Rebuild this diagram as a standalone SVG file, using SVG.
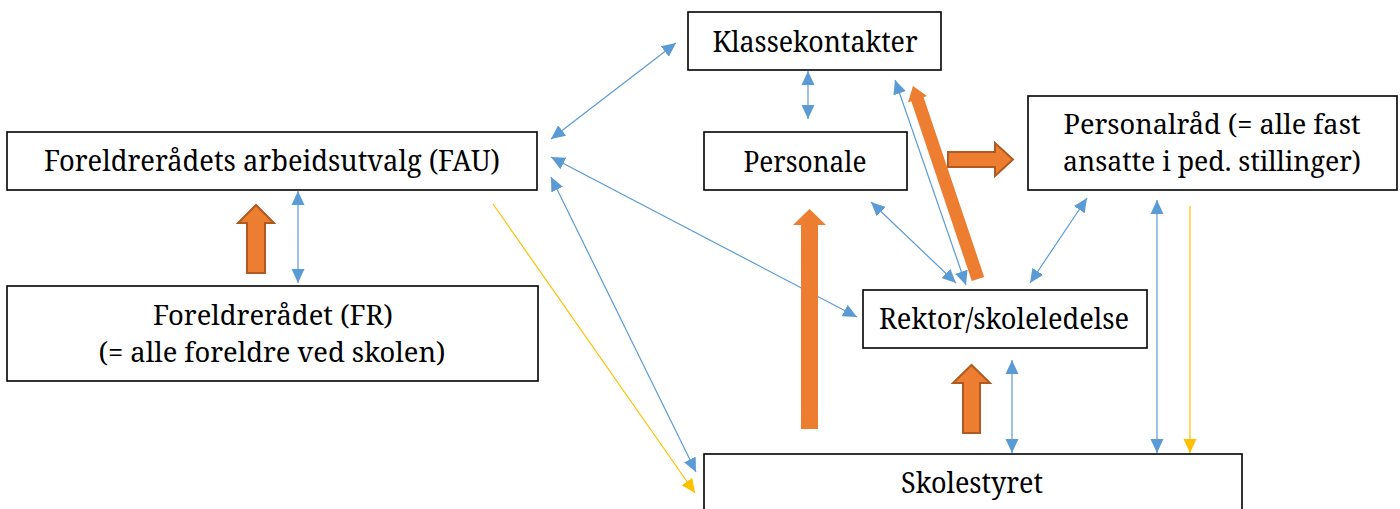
<svg xmlns="http://www.w3.org/2000/svg" width="1400" height="509" viewBox="0 0 1400 509">
<defs>
<style>
.box{fill:#fff;stroke:#000;stroke-width:1.6}
.t{font-family:"Noto Serif","DejaVu Serif","Liberation Serif",serif;font-size:29.5px;fill:#000;text-anchor:middle}
.t2{font-size:27px}
.b{stroke:#5B9BD5;stroke-width:1.2;fill:none;marker-start:url(#ab);marker-end:url(#ab)}
.y{stroke:#FFC000;stroke-width:1.2;fill:none;marker-end:url(#ay)}
.o{fill:#ED7D31}
.oo{fill:#ED7D31;stroke:#AE5A21;stroke-width:2}
</style>
<marker id="ab" markerUnits="userSpaceOnUse" viewBox="0 0 14 14" refX="14" refY="7" markerWidth="14" markerHeight="14" orient="auto-start-reverse"><path d="M0,0.5 L14,7 L0,13.5 z" fill="#5B9BD5"/></marker>
<marker id="ay" markerUnits="userSpaceOnUse" viewBox="0 0 14 14" refX="14" refY="7" markerWidth="14" markerHeight="14" orient="auto"><path d="M0,0.5 L14,7 L0,13.5 z" fill="#FFC000"/></marker>
</defs>
<rect width="1400" height="509" fill="#fff"/>
<g id="connectors">
<line class="b" x1="676" y1="43" x2="551" y2="139"/>
<line class="b" x1="551" y1="157" x2="857" y2="317"/>
<line class="b" x1="551" y1="177" x2="696" y2="472"/>
<line class="y" x1="493" y1="204" x2="695" y2="493"/>
<line class="b" x1="298" y1="191" x2="298" y2="283"/>
<line class="b" x1="808" y1="71" x2="808" y2="119"/>
<line class="b" x1="871" y1="202" x2="956" y2="283"/>
<line class="b" x1="895" y1="80" x2="966" y2="285"/>
<line class="b" x1="1012" y1="360" x2="1012" y2="453"/>
<line class="b" x1="1087" y1="198" x2="1030" y2="283"/>
<line class="b" x1="1157" y1="200" x2="1157" y2="453"/>
<line class="y" x1="1190" y1="206" x2="1190" y2="453"/>
<polygon class="oo" points="247,273 247,223 238,223 256,205 274,223 265,223 265,273"/>
<polygon class="o" points="801,429 801,225 793,225 809.5,209 826,225 818,225 818,429"/>
<polygon class="oo" points="948,152 995,152 995,143 1013,159.5 995,176 995,167 948,167"/>
<polygon class="oo" points="963,433 963,383 953,383 971.5,365 990,383 980,383 980,433"/>
<polygon class="o" points="984.2,276.9 923.6,97.2 927,96.1 913,86 908,102.5 911.3,101.3 971.8,281.1"/>
</g>
<g id="klassekontakter"><rect class="box" x="688" y="12" width="253" height="58"/><text class="t" x="815" y="52" textLength="205" lengthAdjust="spacingAndGlyphs">Klassekontakter</text></g>
<g id="fau"><rect class="box" x="7" y="132" width="530" height="58"/><text class="t" x="272" y="171" textLength="456" lengthAdjust="spacingAndGlyphs">Foreldrerådets arbeidsutvalg (FAU)</text></g>
<g id="personale"><rect class="box" x="704" y="132" width="203" height="58"/><text class="t" x="805" y="172" textLength="123" lengthAdjust="spacingAndGlyphs">Personale</text></g>
<g id="personalraad"><rect class="box" x="1028" y="96" width="369" height="94"/><text class="t t2"><tspan x="1212" y="134" textLength="297" lengthAdjust="spacingAndGlyphs">Personalråd (= alle fast</tspan><tspan x="1212" y="171" textLength="298" lengthAdjust="spacingAndGlyphs">ansatte i ped. stillinger)</tspan></text></g>
<g id="fr"><rect class="box" x="7" y="286" width="531" height="95"/><text class="t t2"><tspan x="273" y="325" textLength="240" lengthAdjust="spacingAndGlyphs">Foreldrerådet (FR)</tspan><tspan x="272" y="362" textLength="347" lengthAdjust="spacingAndGlyphs">(= alle foreldre ved skolen)</tspan></text></g>
<g id="rektor"><rect class="box" x="863" y="290" width="284" height="58"/><text class="t" x="1004" y="329" textLength="250" lengthAdjust="spacingAndGlyphs">Rektor/skoleledelse</text></g>
<g id="skolestyret"><rect class="box" x="704" y="454" width="538" height="70"/><text class="t" x="972" y="493" textLength="142" lengthAdjust="spacingAndGlyphs">Skolestyret</text></g>
</svg>
